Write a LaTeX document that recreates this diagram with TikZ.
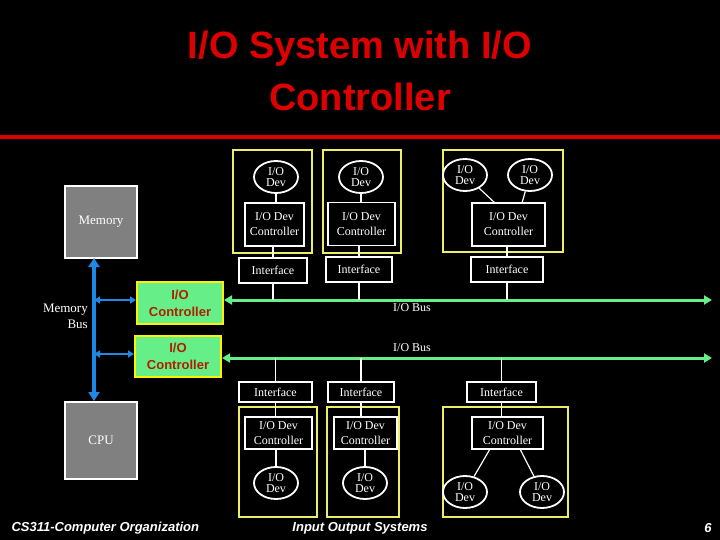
\documentclass[tikz,border=0pt]{standalone}
\usepackage{fontspec}
\setmainfont{Liberation Serif}
\newfontfamily\sansf{Liberation Sans}
\usetikzlibrary{shapes.geometric,arrows.meta}
\definecolor{busgreen}{HTML}{66EE88}
\definecolor{busblue}{HTML}{1E88E5}
\definecolor{ttlred}{HTML}{DD0000}
\definecolor{ctlred}{HTML}{B02000}
\definecolor{ybox}{HTML}{EEEE66}
\begin{document}
\begin{tikzpicture}[x=1pt,y=-1pt,
  txt/.style={text=white,font=\fontsize{12}{12}\selectfont,align=center,inner sep=0},
  dev/.style={ellipse,draw=white,line width=1.8pt,minimum width=44pt,minimum height=32pt,inner sep=0,text=white,font=\fontsize{12}{11}\selectfont,align=center},
  rbox/.style={draw=white,line width=1.5pt,inner sep=0,text=white,font=\fontsize{12}{15}\selectfont,align=center},
  grp/.style={draw=ybox,line width=1.5pt},
  ctl/.style={draw=yellow,line width=2pt,fill=busgreen,text=ctlred,font=\sansf\bfseries\fontsize{13}{17}\selectfont,align=center,inner sep=0},
  gbox/.style={draw=white,line width=2pt,fill=gray,text=white,font=\fontsize{13}{13}\selectfont,inner sep=0},
  wire/.style={white,line width=1.2pt},
  gbus/.style={busgreen,line width=3pt,{Triangle[length=8pt,width=9pt]}-{Triangle[length=8pt,width=9pt]}},
  bbus/.style={busblue,line width=3.5pt,{Triangle[length=9pt,width=11pt]}-{Triangle[length=9pt,width=11pt]}},
  bbr/.style={busblue,line width=2pt,{Triangle[length=6pt,width=7pt]}-{Triangle[length=6pt,width=7pt]}}]
\fill[black] (0,0) rectangle (720,540);
\useasboundingbox (0,0) rectangle (720,540);
% title
\node (title) [font=\sansf\bfseries\fontsize{38}{52}\selectfont,text=ttlred,align=center] at (360,71) {I/O System with I/O\\Controller};
\fill[ttlred] (0,135) rectangle (720,139);
% memory / cpu
\node (mem) [gbox,minimum width=72pt,minimum height=72pt] at (101,222) {Memory};
\node (cpu) [gbox,minimum width=72pt,minimum height=77pt] at (101,440) {CPU};
\coordinate (mbtop) at (94,258);
\coordinate (mbbot) at (94,401);
\draw[bbus] (mbtop) -- (mbbot);
\node (mblbl) [txt,align=right,font=\fontsize{13}{16}\selectfont,anchor=east] at (88,316) {Memory\\Bus};
% controllers
\node (c1) [ctl,minimum width=86pt,minimum height=42pt] at (180,303) {I/O\\Controller};
\node (c2) [ctl,minimum width=86pt,minimum height=41pt] at (178,356.5) {I/O\\Controller};
\coordinate (j1) at (94,300);
\coordinate (j2) at (94,354);
\draw[bbr] (j1) -- (c1.west|-j1);
\draw[bbr] (j2) -- (c2.west|-j2);
% buses
\coordinate (b1e) at (712,300);
\coordinate (b2e) at (712,358);
\draw[gbus] (c1.east|-b1e) -- (b1e);
\draw[gbus] (c2.east|-b2e) -- (b2e);
\node (bl1) [txt] at (412,308) {I/O Bus};
\node (bl2) [txt] at (412,348) {I/O Bus};
% top groups
\draw[grp] (233,150) rectangle (312,253);
\draw[grp] (323,150) rectangle (401,253);
\draw[grp] (443,150) rectangle (563,252);
\node (td1) [dev] at (276,177) {I/O\\Dev};
\node (td2) [dev] at (361,177) {I/O\\Dev};
\node (td3) [dev] at (465,175) {I/O\\Dev};
\node (td4) [dev] at (530,175) {I/O\\Dev};
\node (tc1) [rbox,minimum width=59pt,minimum height=43pt] at (274.5,224.5) {I/O Dev\\Controller};
\node (tc2) [rbox,minimum width=67pt,minimum height=43pt] at (361.5,224) {I/O Dev\\Controller};
\node (tc3) [rbox,minimum width=73pt,minimum height=43pt] at (508.5,224.5) {I/O Dev\\Controller};
\node (ti1) [rbox,minimum width=68pt,minimum height=25pt] at (273,270.5) {Interface};
\node (ti2) [rbox,minimum width=66pt,minimum height=25pt] at (359,269.5) {Interface};
\node (ti3) [rbox,minimum width=72pt,minimum height=25pt] at (507,269.5) {Interface};
\draw[wire] (td1) -- (td1|-tc1.north);
\draw[wire] (td2) -- (td2|-tc2.north);
\draw[wire] (td3) -- (495,203);
\draw[wire] (td4) -- (522,203);
\draw[wire] (tc1.south-|ti1) -- (ti1.north);
\draw[wire] (tc2.south-|ti2) -- (ti2.north);
\draw[wire] (tc3.south-|ti3) -- (ti3.north);
\draw[wire] (ti1.south) -- (ti1.south|-b1e);
\draw[wire] (ti2.south) -- (ti2.south|-b1e);
\draw[wire] (ti3.south) -- (ti3.south|-b1e);
% bottom groups
\draw[grp] (239,407) rectangle (317,517);
\draw[grp] (327,407) rectangle (399,517);
\draw[grp] (443,407) rectangle (568,517);
\node (bi1) [rbox,minimum width=73pt,minimum height=20pt] at (275.5,392) {Interface};
\node (bi2) [rbox,minimum width=66pt,minimum height=20pt] at (361,392) {Interface};
\node (bi3) [rbox,minimum width=69pt,minimum height=20pt] at (501.5,392) {Interface};
\node (bc1) [rbox,minimum width=67pt,minimum height=32pt] at (278.5,433) {I/O Dev\\Controller};
\node (bc2) [rbox,minimum width=63pt,minimum height=32pt] at (365.5,433) {I/O Dev\\Controller};
\node (bc3) [rbox,minimum width=71pt,minimum height=32pt] at (507.5,433) {I/O Dev\\Controller};
\node (bd1) [dev] at (276,483) {I/O\\Dev};
\node (bd2) [dev] at (365,483) {I/O\\Dev};
\node (bd3) [dev] at (465,492) {I/O\\Dev};
\node (bd4) [dev] at (542,492) {I/O\\Dev};
\draw[wire] (bi1.north) -- (bi1.north|-b2e);
\draw[wire] (bi2.north) -- (bi2.north|-b2e);
\draw[wire] (bi3.north) -- (bi3.north|-b2e);
\draw[wire] (bi1.south) -- (bi1.south|-bc1.north);
\draw[wire] (bi2.south) -- (bi2.south|-bc2.north);
\draw[wire] (bi3.south) -- (bi3.south|-bc3.north);
\draw[wire] (bc1.south-|bd1) -- (bd1);
\draw[wire] (bc2.south-|bd2) -- (bd2);
\draw[wire] (490,449) -- (bd3);
\draw[wire] (520,449) -- (bd4);
% footer
\node (f1) [text=white,font=\sansf\bfseries\itshape\fontsize{13}{13}\selectfont,anchor=west] at (8,528) {CS311-Computer Organization};
\node (f2) [text=white,font=\sansf\bfseries\itshape\fontsize{13}{13}\selectfont] at (360,528) {Input Output Systems};
\node (f3) [text=white,font=\sansf\bfseries\itshape\fontsize{13}{13}\selectfont] at (708,528) {6};
\end{tikzpicture}
\end{document}
